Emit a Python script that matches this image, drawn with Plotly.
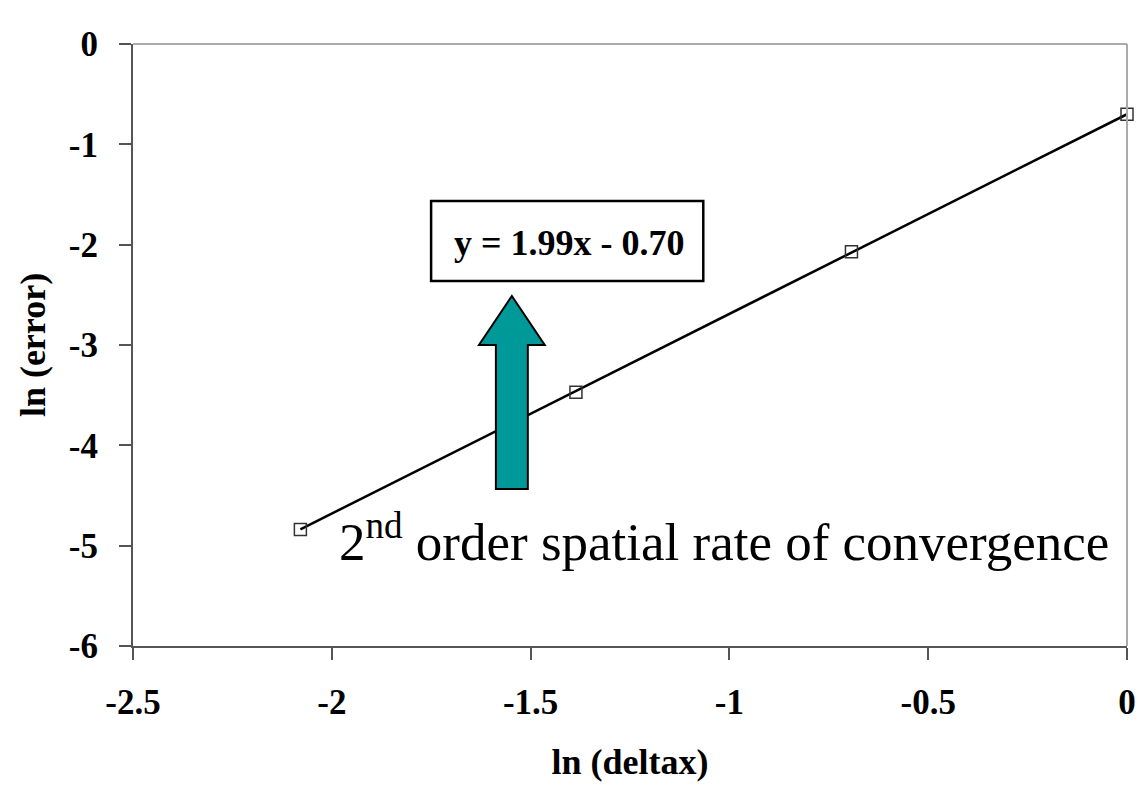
import plotly.graph_objects as go

# Grid-refinement study: log of grid spacing vs log of error
ln_deltax = [-2.079, -1.386, -0.693, 0.0]
ln_error = [-4.84, -3.47, -2.07, -0.70]

# Least-squares trend line reported on the chart
slope = 1.99
intercept = -0.70

x_ticks = [-2.5, -2, -1.5, -1, -0.5, 0]
y_ticks = [0, -1, -2, -3, -4, -5, -6]

SERIF = "Liberation Serif, Times New Roman, serif"

x_line = [min(ln_deltax), max(ln_deltax)]
y_line = [slope * x + intercept for x in x_line]

fig = go.Figure()

fig.add_trace(go.Scatter(
    x=x_line, y=y_line, mode="lines",
    line=dict(color="black", width=2.5),
    hoverinfo="skip", showlegend=False,
))
fig.add_trace(go.Scatter(
    x=ln_deltax, y=ln_error, mode="markers",
    marker=dict(symbol="square-open", size=12, color="#333333",
                line=dict(width=1.5, color="#333333")),
    showlegend=False, cliponaxis=False,
))


def px(x):
    return (x - 133) / 997


def py(y):
    return (646 - y) / 602


# Equation box
fig.add_shape(type="rect", xref="paper", yref="paper",
              x0=px(432), x1=px(705), y0=py(281), y1=py(201),
              line=dict(color="black", width=2.5), fillcolor="white")
sign = "-" if intercept < 0 else "+"
fig.add_annotation(
    xref="paper", yref="paper", x=px(571), y=py(243),
    text=f"<b>y = {slope:.2f}x {sign} {abs(intercept):.2f}</b>",
    showarrow=False, font=dict(family=SERIF, size=36, color="black"),
    xanchor="center", yanchor="middle",
)

# Block arrow pointing up at the equation
arrow_pts = [(497, 489), (497, 345), (480, 345), (513, 296),
             (546, 345), (529, 345), (529, 489)]
path = "M " + " L ".join(f"{px(a):.5f},{py(b):.5f}" for a, b in arrow_pts) + " Z"
fig.add_shape(type="path", xref="paper", yref="paper", path=path,
              fillcolor="#009999", line=dict(color="black", width=2))

fig.add_annotation(
    xref="paper", yref="paper", x=px(338), y=py(538),
    text="2<sup>nd</sup> order spatial rate of convergence",
    showarrow=False, font=dict(family=SERIF, size=53, color="black"),
    xanchor="left", yanchor="middle",
)

axis_common = dict(
    showgrid=False, zeroline=False, showline=True,
    linecolor="#555555", linewidth=2, mirror=False,
    ticks="outside", ticklen=12, tickwidth=2, tickcolor="#555555",
    tickfont=dict(family=SERIF, size=35, color="black"),
)

fig.update_layout(
    width=1148, height=789,
    margin=dict(l=133, r=18, t=44, b=143),
    paper_bgcolor="white", plot_bgcolor="white",
    font=dict(family=SERIF, color="black"),
    xaxis=dict(range=[-2.5, 0], tickvals=x_ticks,
               ticktext=[f"<b>{v:g}</b>" for v in x_ticks],
               ticklabelstandoff=12,
               title=dict(text="<b>ln (deltax)</b>",
                          font=dict(family=SERIF, size=36), standoff=28),
               **axis_common),
    yaxis=dict(range=[-6, 0], tickvals=y_ticks,
               ticktext=[f"<b>{v:g}</b>" for v in y_ticks],
               ticklabelstandoff=14,
               title=dict(text="<b>ln (error)</b>",
                          font=dict(family=SERIF, size=36), standoff=12),
               **axis_common),
)

# Light frame along the top and right edges of the plot area
fig.add_shape(type="line", xref="paper", yref="paper", x0=0, x1=1, y0=1, y1=1,
              line=dict(color="#aaaaaa", width=2))
fig.add_shape(type="line", xref="paper", yref="paper", x0=1, x1=1, y0=0, y1=1,
              line=dict(color="#aaaaaa", width=2))

fig.write_html("out.html")
